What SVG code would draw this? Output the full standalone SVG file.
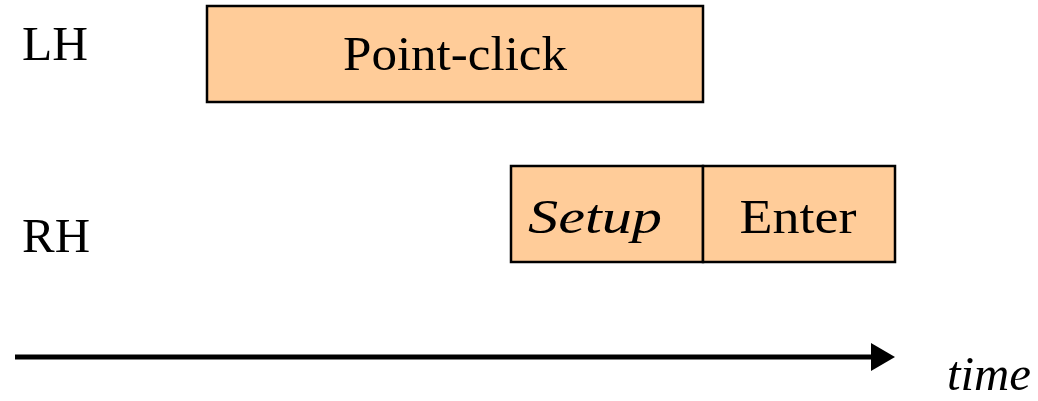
<svg xmlns="http://www.w3.org/2000/svg" width="1038" height="401" viewBox="0 0 1038 401">
<style>
.box{fill:#FFCC99;stroke:#000;stroke-width:2.5}
.t{font-family:"Liberation Serif","DejaVu Serif",serif;font-size:48px;fill:#000}
.i{font-style:italic}
</style>
<defs>
<marker id="ah" viewBox="0 0 24 28" refX="2" refY="14" markerWidth="24" markerHeight="28" markerUnits="userSpaceOnUse" orient="auto"><path d="M0,0 L24,14 L0,28 z" fill="#000"/></marker>
</defs>
<rect width="1038" height="401" fill="#fff"/>
<g id="label-lh"><text class="t" x="22" y="60" textLength="66" lengthAdjust="spacingAndGlyphs">LH</text></g>
<g id="label-rh"><text class="t" x="22" y="252" textLength="68" lengthAdjust="spacingAndGlyphs">RH</text></g>
<g id="node-pointclick">
<rect class="box" x="207" y="6" width="496" height="96"/>
<text class="t" x="455" y="70" text-anchor="middle" textLength="224" lengthAdjust="spacingAndGlyphs">Point-click</text>
</g>
<g id="node-setup">
<rect class="box" x="511" y="166" width="192" height="96"/>
<text class="t i" x="595" y="233" text-anchor="middle" font-size="51" textLength="134" lengthAdjust="spacingAndGlyphs">Setup</text>
</g>
<g id="node-enter">
<rect class="box" x="703" y="166" width="192" height="96"/>
<text class="t" x="798" y="233" text-anchor="middle" textLength="117" lengthAdjust="spacingAndGlyphs">Enter</text>
</g>
<g id="connectors">
<line x1="15" y1="357" x2="873" y2="357" stroke="#000" stroke-width="5" marker-end="url(#ah)"/>
</g>
<g id="label-time"><text class="t i" x="947" y="390" textLength="84" lengthAdjust="spacingAndGlyphs">time</text></g>
</svg>
